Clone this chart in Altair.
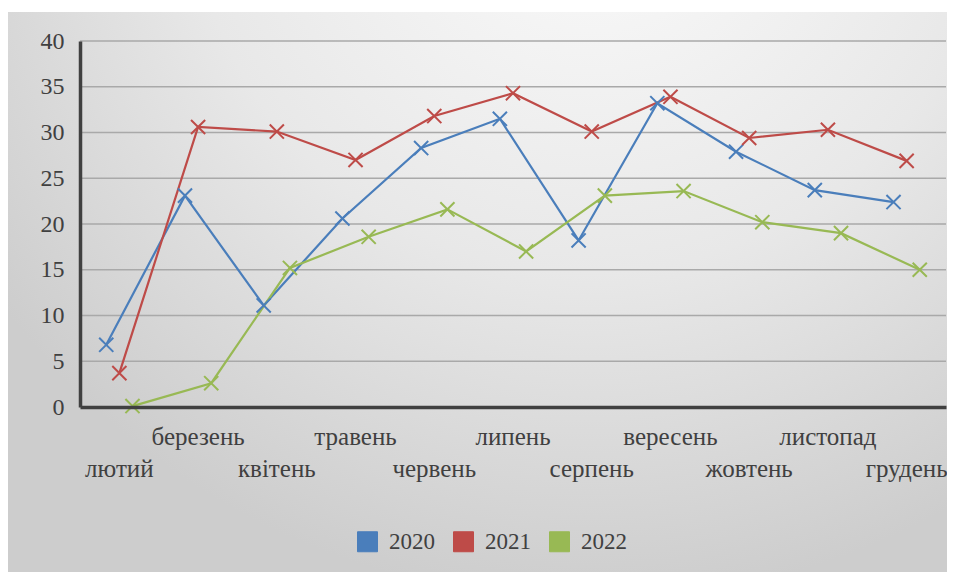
import altair as alt
import pandas as pd

months = ["лютий", "березень", "квітень", "травень", "червень", "липень",
          "серпень", "вересень", "жовтень", "листопад", "грудень"]
v2020 = [6.8, 23.1, 11.1, 20.6, 28.3, 31.5, 18.2, 33.2, 27.9, 23.7, 22.4]
v2021 = [3.7, 30.6, 30.1, 27.0, 31.8, 34.3, 30.1, 33.9, 29.4, 30.3, 26.9]
v2022 = [0.1, 2.6, 15.2, 18.6, 21.6, 17.0, 23.1, 23.6, 20.2, 19.0, 15.0]
series_names = ["2020", "2021", "2022"]
series_colors = ["#4a7ebb", "#be4b48", "#98b954"]
y_ticks = [0, 5, 10, 15, 20, 25, 30, 35, 40]

rows = []
for name, vals in zip(series_names, [v2020, v2021, v2022]):
    for m, v in zip(months, vals):
        rows.append({"month": m, "series": name, "value": v})
df = pd.DataFrame(rows)

lab = pd.DataFrame({"month": months, "row": [i % 2 for i in range(len(months))]})
grid = pd.DataFrame({"value": y_ticks[1:]})

FONT = "Liberation Serif"
W, H = 866, 366

xenc = alt.X("month:N", sort=months,
             scale=alt.Scale(domain=months, paddingInner=0, paddingOuter=0),
             axis=alt.Axis(labels=False, ticks=False, title=None, grid=False,
                           domainColor="#404040", domainWidth=3.5, zindex=1))
yenc = alt.Y("value:Q", scale=alt.Scale(domain=[0, 40], nice=False, zero=True),
             axis=alt.Axis(values=y_ticks, ticks=False, title=None, grid=False,
                           labelFont=FONT, labelFontSize=24, labelColor="#404040",
                           labelPadding=16, domainColor="#404040", domainWidth=3.5,
                           zindex=1))
# spacer slots either side keep the three series close together within each month
offset_domain = ["_l"] + series_names + ["_r"]
xoff = alt.XOffset("series:N",
                   scale=alt.Scale(domain=offset_domain, paddingInner=0, paddingOuter=1))
color_scale = alt.Scale(domain=series_names, range=series_colors)

bg = alt.Chart(alt.Data(values=[{}])).mark_rect(
    fill=alt.Gradient(
        gradient="radial",
        stops=[alt.GradientStop(color="#fcfcfc", offset=0),
               alt.GradientStop(color="#e8e8e8", offset=0.55),
               alt.GradientStop(color="#cdcdcd", offset=1)],
        x1=0.62, y1=0.05, r1=0, x2=0.62, y2=0.05, r2=0.78),
).encode(x=alt.value(-72), x2=alt.value(W + 1), y=alt.value(-29), y2=alt.value(H + 165))

gridlines = alt.Chart(grid).mark_rule(color="#a9a9a9", strokeWidth=1.5).encode(
    y=alt.Y("value:Q"))

legend_layer = alt.Chart(df).mark_square(size=1, filled=True, opacity=1).encode(
    x=xenc, y=yenc, xOffset=xoff,
    color=alt.Color("series:N", scale=color_scale,
                    legend=alt.Legend(orient="none", legendX=276, legendY=489,
                                      direction="horizontal", title=None,
                                      symbolType="square", symbolSize=400,
                                      labelFont=FONT, labelFontSize=23,
                                      labelColor="#404040", labelOffset=10,
                                      columnPadding=16, padding=0,
                                      symbolStrokeWidth=1)))

lines = alt.Chart(df).mark_line(strokeWidth=2.2).encode(
    x=xenc, y=yenc, xOffset=xoff,
    color=alt.Color("series:N", scale=color_scale))

crosses = alt.Chart(df).mark_point(
    shape="M-1,-1L1,1M-1,1L1,-1", filled=False, size=200, strokeWidth=2, opacity=1
).encode(x=xenc, y=yenc, xOffset=xoff,
         color=alt.Color("series:N", scale=color_scale))

top_labels = alt.Chart(lab).transform_filter("datum.row == 1").mark_text(
    font=FONT, fontSize=25, color="#404040", baseline="middle", align="center"
).encode(x=alt.X("month:N", sort=months), y=alt.value(396), text="month:N")

bottom_labels = alt.Chart(lab).transform_filter("datum.row == 0").mark_text(
    font=FONT, fontSize=25, color="#404040", baseline="middle", align="center"
).encode(x=alt.X("month:N", sort=months), y=alt.value(428), text="month:N")

chart = alt.layer(bg, gridlines, legend_layer, lines, crosses, top_labels, bottom_labels).properties(
    width=W, height=H,
    autosize=alt.AutoSizeParams(type="none"),
    padding={"left": 72, "top": 33, "right": 1, "bottom": 165},
    background="white",
).configure_view(stroke=None)

chart.save("out.html", embed_options={"renderer": "svg", "actions": False})
